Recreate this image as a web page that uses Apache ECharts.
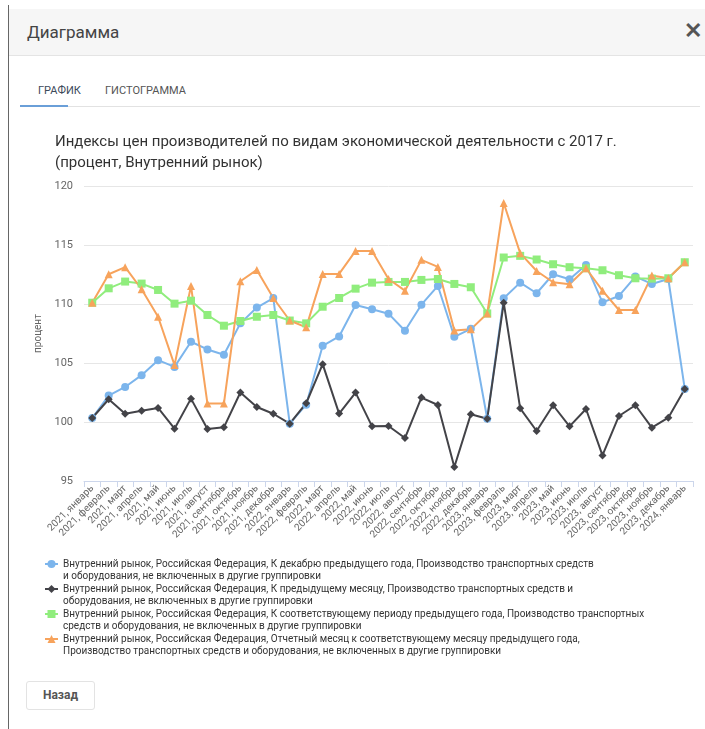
<!DOCTYPE html>
<html>
<head>
<meta charset="utf-8">
<script src="https://cdn.jsdelivr.net/npm/echarts@6/dist/echarts.min.js"></script>
<style>
html,body{margin:0;padding:0;background:#fff;width:705px;height:729px;overflow:hidden;font-family:Roboto,"Noto Sans",sans-serif;}
#border{position:absolute;left:8px;top:5px;width:1px;height:724px;background:#666;}
#header{position:absolute;left:9px;top:9px;width:696px;height:46px;background:#f6f6f6;border-bottom:1px solid #e4e4e4;}
#htitle{position:absolute;left:27px;top:22px;font-size:17px;color:#444;}
#close{position:absolute;left:684px;top:19px;font-size:22px;font-weight:bold;color:#555;line-height:24px;}
#tab1{position:absolute;left:38px;top:84px;font-size:11px;color:#3d4a5a;}
#tab2{position:absolute;left:105px;top:84px;font-size:11px;color:#555;}
#tabline{position:absolute;left:20px;top:106px;width:680px;height:1px;background:#e2e2e2;}
#tabact{position:absolute;left:20px;top:105px;width:48px;height:2px;background:#6a9fd8;}
#btn{position:absolute;left:26px;top:681px;width:69px;height:29px;border:1px solid #e3e3e3;border-radius:3px;box-sizing:border-box;text-align:center;line-height:27px;font-size:12px;font-weight:bold;color:#555;}
#chart{position:absolute;left:0;top:0;width:705px;height:729px;}
</style>
</head>
<body>
<div id="border"></div>
<div id="header"></div>
<div id="htitle">Диаграмма</div>
<div id="close">✕</div>
<div id="tab1">ГРАФИК</div>
<div id="tab2">ГИСТОГРАММА</div>
<div id="tabline"></div>
<div id="tabact"></div>
<div id="btn">Назад</div>
<div id="chart"></div>
<script>
const categories = [
  "2021, январь","2021, февраль","2021, март","2021, апрель","2021, май","2021, июнь","2021, июль","2021, август","2021, сентябрь","2021, октябрь","2021, ноябрь","2021, декабрь",
  "2022, январь","2022, февраль","2022, март","2022, апрель","2022, май","2022, июнь","2022, июль","2022, август","2022, сентябрь","2022, октябрь","2022, ноябрь","2022, декабрь",
  "2023, январь","2023, февраль","2023, март","2023, апрель","2023, май","2023, июнь","2023, июль","2023, август","2023, сентябрь","2023, октябрь","2023, ноябрь","2023, декабрь",
  "2024, январь"
];
const seriesNames = [
  "Внутренний рынок, Российская Федерация, К декабрю предыдущего года, Производство транспортных средств и оборудования, не включенных в другие группировки",
  "Внутренний рынок, Российская Федерация, К предыдущему месяцу, Производство транспортных средств и оборудования, не включенных в другие группировки",
  "Внутренний рынок, Российская Федерация, К соответствующему периоду предыдущего года, Производство транспортных средств и оборудования, не включенных в другие группировки",
  "Внутренний рынок, Российская Федерация, Отчетный месяц к соответствующему месяцу предыдущего года, Производство транспортных средств и оборудования, не включенных в другие группировки"
];
const legendLines = [
  "Внутренний рынок, Российская Федерация, К декабрю предыдущего года, Производство транспортных средств\nи оборудования, не включенных в другие группировки",
  "Внутренний рынок, Российская Федерация, К предыдущему месяцу, Производство транспортных средств и\nоборудования, не включенных в другие группировки",
  "Внутренний рынок, Российская Федерация, К соответствующему периоду предыдущего года, Производство транспортных\nсредств и оборудования, не включенных в другие группировки",
  "Внутренний рынок, Российская Федерация, Отчетный месяц к соответствующему месяцу предыдущего года,\nПроизводство транспортных средств и оборудования, не включенных в другие группировки"
];
const toDecember = [100.34,102.24,102.97,103.97,105.24,104.67,106.8,106.15,105.7,108.36,109.7,110.5,
  99.86,101.47,106.46,107.25,109.92,109.55,109.18,107.73,109.94,111.53,107.22,107.9,
  100.28,110.48,111.81,110.91,112.52,112.1,113.31,110.14,110.68,112.32,111.7,112.12,
  102.8];
const toPrevMonth = [100.34,101.93,100.7,100.96,101.19,99.43,101.98,99.4,99.55,102.5,101.27,100.7,
  99.86,101.59,104.9,100.71,102.49,99.63,99.66,98.64,102.07,101.44,96.18,100.65,
  100.28,110.11,101.16,99.24,101.42,99.63,101.1,97.17,100.51,101.42,99.52,100.37,
  102.8];
const toPeriod = [110.11,111.33,111.9,111.73,111.19,110.03,110.28,109.07,108.16,108.56,108.92,109.07,
  108.6,108.36,109.77,110.51,111.3,111.81,111.87,111.87,112.04,112.12,111.7,111.42,
  109.2,113.94,114.08,113.77,113.37,113.12,113.03,112.86,112.44,112.18,112.15,112.18,
  113.54];
const toMonthPrevYear = [110.11,112.52,113.12,111.25,108.92,104.82,111.53,101.56,101.56,111.93,112.89,110.51,
  108.6,108.02,112.55,112.55,114.5,114.5,112.12,111.13,113.74,113.14,107.76,107.85,
  109.2,118.56,114.31,112.8,111.84,111.67,113.03,111.13,109.49,109.49,112.41,112.18,
  113.54];
const yTicks = {min: 95, max: 120, interval: 5};

const colors = ['#7cb5ec', '#434348', '#90ed7d', '#f7a35c'];
const symbols = ['circle', 'diamond', 'rect', 'triangle'];
const symbolSizes = [8, 8, 8, 8];
const dataSets = [toDecember, toPrevMonth, toPeriod, toMonthPrevYear];

const chart = echarts.init(document.getElementById('chart'));
const font = 'Roboto, "Noto Sans", sans-serif';
chart.setOption({
  animation: false,
  color: colors,
  title: {
    text: 'Индексы цен производителей по видам экономической деятельности с 2017 г.\n(процент, Внутренний рынок)',
    left: 50, top: 127,
    textStyle: {fontSize: 15, fontWeight: 'normal', color: '#333', lineHeight: 21, fontFamily: font}
  },
  grid: {left: 84, right: 12, top: 186, bottom: 248, containLabel: false},
  xAxis: {
    type: 'category', data: categories, boundaryGap: true,
    axisLine: {lineStyle: {color: '#ccd6eb'}},
    axisTick: {show: true, length: 6, lineStyle: {color: '#ccd6eb'}, alignWithLabel: false},
    axisLabel: {interval: 0, rotate: 45, fontSize: 10, color: '#666', margin: 6, fontFamily: font}
  },
  yAxis: {
    type: 'value', min: yTicks.min, max: yTicks.max, interval: yTicks.interval,
    name: 'процент', nameLocation: 'middle', nameGap: 38, nameRotate: 90,
    nameTextStyle: {fontSize: 10, color: '#666', fontFamily: font},
    axisLine: {show: false}, axisTick: {show: false},
    axisLabel: {fontSize: 11, color: '#666', margin: 11, fontFamily: font},
    splitLine: {lineStyle: {color: '#e6e6e6'}}
  },
  legend: {
    orient: 'vertical', left: 39, top: 541,
    itemWidth: 13, itemHeight: 10, itemGap: -11,
    data: seriesNames,
    formatter: function (name) { return '\n' + legendLines[seriesNames.indexOf(name)]; },
    textStyle: {fontSize: 10, color: '#333', lineHeight: 12, fontFamily: font}
  },
  series: dataSets.map(function (d, i) {
    return {
      name: seriesNames[i], type: 'line', data: d,
      symbol: symbols[i], symbolSize: symbolSizes[i], showSymbol: true,
      lineStyle: {width: 2, color: colors[i]},
      itemStyle: {color: colors[i]}
    };
  })
});
</script>
</body>
</html>
